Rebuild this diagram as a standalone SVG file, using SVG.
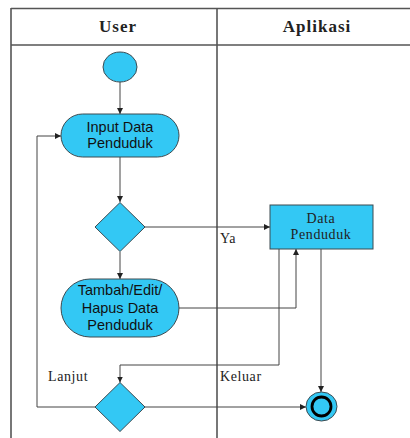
<svg xmlns="http://www.w3.org/2000/svg" width="410" height="438" viewBox="0 0 410 438">
<defs>
<marker id="ah" viewBox="0 0 6 6" refX="6" refY="3" markerWidth="6" markerHeight="6" markerUnits="userSpaceOnUse" orient="auto">
<path d="M0,0 L6,3 L0,6 Z" fill="#222"/>
</marker>
</defs>
<style>
.lane{stroke:#555;stroke-width:1.6;fill:none}
.shape{fill:#33C8F4;stroke:#3d4a50;stroke-width:1}
.c{stroke:#444;stroke-width:1;fill:none}
.ca{stroke:#444;stroke-width:1;fill:none;marker-end:url(#ah)}
.hdr{font-family:"Liberation Serif",serif;font-weight:bold;font-size:17px;fill:#222;text-anchor:middle;letter-spacing:1px}
.sans{font-family:"Liberation Sans",Arial,sans-serif;font-size:14.5px;fill:#111;text-anchor:middle}
.serif{font-family:"Liberation Serif",serif;font-size:14px;fill:#222;letter-spacing:0.6px}
</style>
<rect width="410" height="438" fill="#fff"/>
<g id="swimlanes">
<line class="lane" x1="11" y1="8.5" x2="410" y2="8.5"/>
<line class="lane" x1="11" y1="45" x2="410" y2="45"/>
<line class="lane" x1="11" y1="8" x2="11" y2="438"/>
<line class="lane" x1="217" y1="8" x2="217" y2="438"/>
<text class="hdr" x="118" y="32">User</text>
<text class="hdr" x="317" y="32">Aplikasi</text>
</g>
<g id="connectors">
<line class="ca" x1="120" y1="82" x2="120" y2="114"/>
<line class="ca" x1="120" y1="157" x2="120" y2="202"/>
<line class="ca" x1="145" y1="227" x2="270" y2="227"/>
<line class="ca" x1="120" y1="252" x2="120" y2="279"/>
<polyline class="ca" points="179,308 296,308 296,249"/>
<polyline class="ca" points="279,249 279,365 120,365 120,382.5"/>
<line class="ca" x1="321" y1="249" x2="321" y2="392"/>
<line class="ca" x1="145" y1="407" x2="306" y2="407"/>
<polyline class="ca" points="95,407 37,407 37,136 61,136"/>
<text class="serif" x="220" y="243">Ya</text>
<text class="serif" x="48" y="381">Lanjut</text>
<text class="serif" x="220" y="381">Keluar</text>
</g>
<g id="start">
<ellipse class="shape" cx="120" cy="67" rx="17" ry="15"/>
</g>
<g id="input-data">
<rect class="shape" x="61" y="114" width="118" height="43" rx="21.5"/>
<text class="sans" x="120" y="132">Input Data</text>
<text class="sans" x="120" y="148">Penduduk</text>
</g>
<g id="decision1">
<polygon class="shape" points="120,202.5 145,227 120,251.5 95,227"/>
</g>
<g id="data-penduduk">
<rect class="shape" x="270" y="205" width="103" height="44"/>
<text class="serif" x="321" y="223" text-anchor="middle">Data</text>
<text class="serif" x="321" y="239" text-anchor="middle">Penduduk</text>
</g>
<g id="tambah">
<rect class="shape" x="61" y="279" width="118" height="58" rx="29"/>
<text class="sans" x="120" y="295">Tambah/Edit/</text>
<text class="sans" x="120" y="313">Hapus Data</text>
<text class="sans" x="120" y="330">Penduduk</text>
</g>
<g id="decision2">
<polygon class="shape" points="120,382.5 145,407 120,431.5 95,407"/>
</g>
<g id="end">
<ellipse class="shape" cx="321.5" cy="406.5" rx="15.5" ry="14.5"/>
<circle cx="321.5" cy="406.5" r="9.5" fill="#33C8F4" stroke="#000" stroke-width="2.8"/>
</g>
</svg>
